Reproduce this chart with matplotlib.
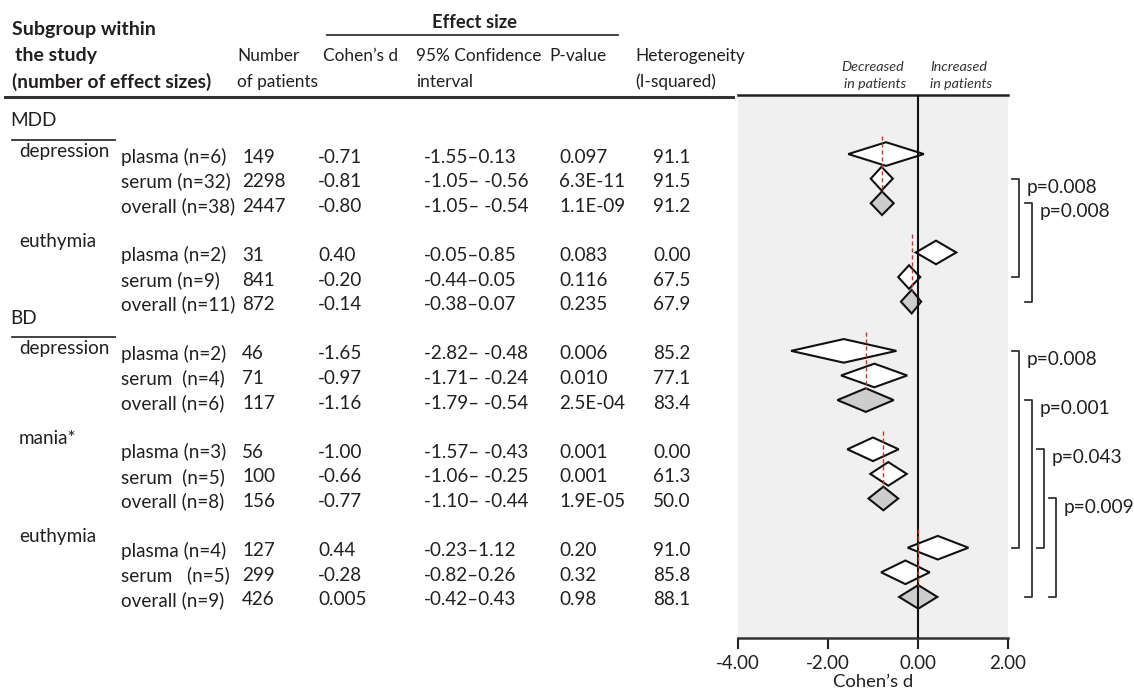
import matplotlib
matplotlib.use('Agg')
import matplotlib.pyplot as plt
from matplotlib.patches import Polygon
from matplotlib.lines import Line2D
from matplotlib.transforms import blended_transform_factory

plt.rcParams['font.family'] = ['Lato', 'DejaVu Sans']

# ---------------- data ----------------
disorders = ['MDD', 'BD']
mood_states = ['depression', 'euthymia', 'depression', 'mania*', 'euthymia']
sample_labels = ['plasma (n=6)', 'serum (n=32)', 'overall (n=38)',
                 'plasma (n=2)', 'serum (n=9)', 'overall (n=11)',
                 'plasma (n=2)', 'serum  (n=4)', 'overall (n=6)',
                 'plasma (n=3)', 'serum  (n=5)', 'overall (n=8)',
                 'plasma (n=4)', 'serum   (n=5)', 'overall (n=9)']
n_patients = [149, 2298, 2447, 31, 841, 872, 46, 71, 117,
              56, 100, 156, 127, 299, 426]
cohens_d_text = ['-0.71', '-0.81', '-0.80', '0.40', '-0.20', '-0.14',
                 '-1.65', '-0.97', '-1.16', '-1.00', '-0.66', '-0.77',
                 '0.44', '-0.28', '0.005']
cohens_d = [-0.71, -0.81, -0.80, 0.40, -0.20, -0.14,
            -1.65, -0.97, -1.16, -1.00, -0.66, -0.77,
            0.44, -0.28, 0.005]
ci_low = [-1.55, -1.05, -1.05, -0.05, -0.44, -0.38,
          -2.82, -1.71, -1.79, -1.57, -1.06, -1.10,
          -0.23, -0.82, -0.42]
ci_high = [0.13, -0.56, -0.54, 0.85, 0.05, 0.07,
           -0.48, -0.24, -0.54, -0.43, -0.25, -0.44,
           1.12, 0.26, 0.43]
ci_text = ['-1.55\u20130.13', '-1.05\u2013 -0.56', '-1.05\u2013 -0.54',
           '-0.05\u20130.85', '-0.44\u20130.05', '-0.38\u20130.07',
           '-2.82\u2013 -0.48', '-1.71\u2013 -0.24', '-1.79\u2013 -0.54',
           '-1.57\u2013 -0.43', '-1.06\u2013 -0.25', '-1.10\u2013 -0.44',
           '-0.23\u20131.12', '-0.82\u20130.26', '-0.42\u20130.43']
p_values = ['0.097', '6.3E-11', '1.1E-09', '0.083', '0.116', '0.235',
            '0.006', '0.010', '2.5E-04', '0.001', '0.001', '1.9E-05',
            '0.20', '0.32', '0.98']
i_squared = ['91.1', '91.5', '91.2', '0.00', '67.5', '67.9',
             '85.2', '77.1', '83.4', '0.00', '61.3', '50.0',
             '91.0', '85.8', '88.1']
# comparisons between groups: (first row, second row, p label)
comparisons = [(1, 4, 'p=0.008'), (2, 5, 'p=0.008'),
               (6, 12, 'p=0.008'), (8, 14, 'p=0.001'),
               (9, 12, 'p=0.043'), (11, 14, 'p=0.009')]
bracket_level = [0, 1, 0, 1, 2, 3]
x_ticks = [-4, -2, 0, 2]
x_tick_labels = ['-4.00', '-2.00', '0.00', '2.00']

# ---------------- layout ----------------
W, H = 1134, 693
fig = plt.figure(figsize=(W / 100, H / 100), dpi=100)
def fx(px): return px / W
def fy(py): return 1 - py / H

TXT = '#231f20'
ax = fig.add_axes([fx(738), fy(638), fx(1008) - fx(738), (638 - 95) / H])
ax.set_facecolor('#f0f0f0')

# row positions (3 rows per group, one blank row between groups)
rows = [4 * (i // 3) + (i % 3) for i in range(len(cohens_d))]
ax.set_xlim(-4, 2)
ax.set_ylim(19.67, -2.40)

# diamonds
half_h = 0.48
for i, (d, lo, hi) in enumerate(zip(cohens_d, ci_low, ci_high)):
    y = rows[i]
    overall = (i % 3 == 2)
    poly = Polygon([(lo, y), (d, y - half_h), (hi, y), (d, y + half_h)],
                   closed=True, facecolor='#cdcdcd' if overall else 'white',
                   edgecolor='#111111', lw=1.5, zorder=2)
    ax.add_patch(poly)

ax.axvline(0, color='#111111', lw=1.5, zorder=3)

# red dashed line at each group's overall effect
for g in range(len(mood_states)):
    d_over = cohens_d[3 * g + 2]
    ax.plot([d_over, d_over], [rows[3 * g] - 0.75, rows[3 * g + 2] - 0.45],
            color='#c0392b', lw=1.0, ls=(0, (3, 2)), zorder=4)

for s in ['left', 'right']:
    ax.spines[s].set_visible(False)
ax.spines['top'].set_linewidth(1.8)
ax.spines['top'].set_color('#222222')
ax.spines['bottom'].set_linewidth(1.8)
ax.spines['bottom'].set_color('#333333')
ax.set_yticks([])
ax.set_xticks(x_ticks)
ax.set_xticklabels(x_tick_labels)
ax.tick_params(axis='x', direction='out', length=8, width=1.5,
               labelsize=13.5, colors=TXT, pad=4)
ax.set_xlabel('Cohen\u2019s d', fontsize=13.3, color=TXT, labelpad=2)

# decreased / increased annotations
IFS = 10.3
fig.text(fx(904), fy(67), 'Decreased', ha='right', va='center',
         fontsize=IFS, style='italic', color='#333333')
fig.text(fx(906), fy(84), 'in patients', ha='right', va='center',
         fontsize=IFS, style='italic', color='#333333')
fig.text(fx(930), fy(67), 'Increased', ha='left', va='center',
         fontsize=IFS, style='italic', color='#333333')
fig.text(fx(930), fy(84), 'in patients', ha='left', va='center',
         fontsize=IFS, style='italic', color='#333333')

# ---------------- table ----------------
tr = blended_transform_factory(fig.transFigure, ax.transData)
FS = 13.6
HFS = 12.4
BFS = 14.0

# headers
fig.text(fx(12), fy(30), 'Subgroup within', fontsize=BFS, weight='bold',
         color=TXT, va='center')
fig.text(fx(15), fy(56), 'the study', fontsize=BFS, weight='bold',
         color=TXT, va='center')
fig.text(fx(12), fy(82), '(number of effect sizes)', fontsize=13.8,
         weight='bold', color=TXT, va='center')
fig.text(fx(475), fy(22), 'Effect size', fontsize=13.2, weight='bold',
         color=TXT, va='center', ha='center')
fig.add_artist(Line2D([fx(327), fx(618)], [fy(35), fy(35)], color='#333333', lw=1.3))
fig.text(fx(237), fy(56), 'Number', fontsize=HFS, color=TXT, va='center')
fig.text(fx(237), fy(82), 'of patients', fontsize=HFS, color=TXT, va='center')
fig.text(fx(323), fy(56), 'Cohen\u2019s d', fontsize=HFS, color=TXT, va='center')
fig.text(fx(416), fy(56), '95% Confidence', fontsize=HFS, color=TXT, va='center')
fig.text(fx(416), fy(82), 'interval', fontsize=HFS, color=TXT, va='center')
fig.text(fx(549), fy(56), 'P-value', fontsize=HFS, color=TXT, va='center')
fig.text(fx(635), fy(56), 'Heterogeneity', fontsize=HFS, color=TXT, va='center')
fig.text(fx(635), fy(82), '(I-squared)', fontsize=HFS, color=TXT, va='center')
fig.add_artist(Line2D([fx(5), fx(733)], [fy(97), fy(97)], color='#333333', lw=2.2))

# disorder labels with underline
disorder_rows = [-1.35, 6.67]
for name, yr in zip(disorders, disorder_rows):
    fig.text(fx(10), yr, name, transform=tr, fontsize=FS, color=TXT, va='center')
    fig.add_artist(Line2D([fx(12), fx(115)], [yr + 0.78, yr + 0.78],
                          transform=tr, color='#333333', lw=1.3))

# mood state labels
for g, name in enumerate(mood_states):
    off = 0.1 if name == 'depression' else 0.45
    fig.text(fx(19), rows[3 * g] - off, name, transform=tr, fontsize=FS,
             color=TXT, va='center')

for i in range(len(cohens_d)):
    y = rows[i] + 0.12
    fig.text(fx(121), y, sample_labels[i], transform=tr, fontsize=FS, color=TXT, va='center')
    fig.text(fx(242), y, str(n_patients[i]), transform=tr, fontsize=FS, color=TXT, va='center')
    fig.text(fx(318), y, cohens_d_text[i], transform=tr, fontsize=FS, color=TXT, va='center')
    fig.text(fx(424), y, ci_text[i], transform=tr, fontsize=FS, color=TXT, va='center')
    fig.text(fx(559), y, p_values[i], transform=tr, fontsize=FS, color=TXT, va='center')
    fig.text(fx(653), y, i_squared[i], transform=tr, fontsize=FS, color=TXT, va='center')

# ---------------- comparison brackets ----------------
level_x = [1019, 1032, 1044, 1056]
for (a, b, lab), lev in zip(comparisons, bracket_level):
    xv = fx(level_x[lev])
    xt = fx(level_x[lev] - 7)
    ya, yb = rows[a], rows[b]
    fig.add_artist(Line2D([xt, xv, xv, xt], [ya, ya, yb, yb], transform=tr,
                          color='#333333', lw=1.3))
    fig.text(fx(level_x[lev] + 8), ya + 0.35, lab, transform=tr,
             fontsize=13.8, color=TXT, va='center')

fig.savefig('out.png', dpi=100)
